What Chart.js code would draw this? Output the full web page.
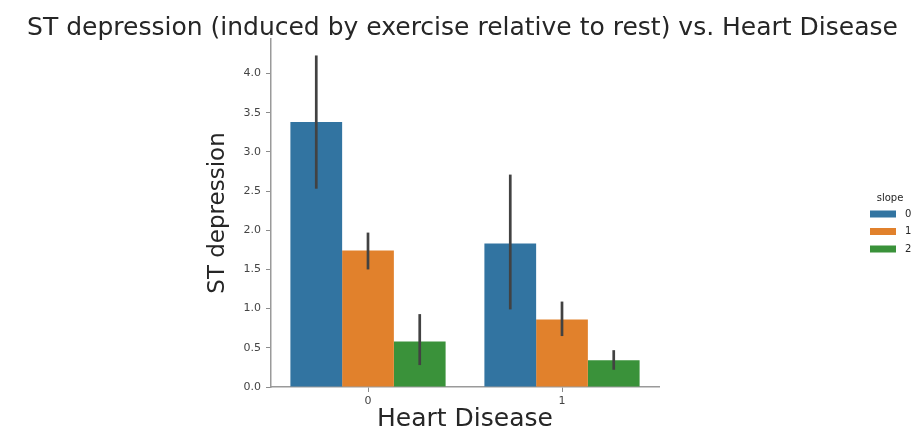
<!DOCTYPE html>
<html lang="en">
<head>
    <meta charset="UTF-8">
    <title>ST depression vs. Heart Disease</title>
    <script src="https://cdn.jsdelivr.net/npm/chart.js"></script>
    <style>
        html, body {
            margin: 0;
            padding: 0;
            background-color: #ffffff;
        }
        #chart-box {
            width: 917px;
            height: 430px;
        }
    </style>
</head>
<body>

    <div id="chart-box">
        <canvas id="stChart" width="917" height="430"></canvas>
    </div>

    <script>
        // Data
        const categories = ['0', '1'];            // Heart Disease
        const slopes = ['0', '1', '2'];
        const slope0 = [3.38, 1.83];
        const slope1 = [1.74, 0.86];
        const slope2 = [0.58, 0.34];
        // error bar ends (low / high)
        const slope0Low = [2.53, 0.99];
        const slope0High = [4.23, 2.71];
        const slope1Low = [1.50, 0.65];
        const slope1High = [1.97, 1.09];
        const slope2Low = [0.28, 0.22];
        const slope2High = [0.93, 0.47];
        const yTicks = [0, 0.5, 1, 1.5, 2, 2.5, 3, 3.5, 4];

        const colors = ['#3274a1', '#e1812c', '#3a923a'];
        const errLow = [slope0Low, slope1Low, slope2Low];
        const errHigh = [slope0High, slope1High, slope2High];

        // Draw the error bars on top of the bars
        const errorBars = {
            id: 'errorBars',
            afterDatasetsDraw(chart) {
                const ctx = chart.ctx;
                const y = chart.scales.y;
                ctx.save();
                ctx.strokeStyle = '#424242';
                ctx.lineWidth = 2.7;
                chart.data.datasets.forEach((ds, i) => {
                    const meta = chart.getDatasetMeta(i);
                    meta.data.forEach((bar, j) => {
                        ctx.beginPath();
                        ctx.moveTo(bar.x, y.getPixelForValue(errLow[i][j]));
                        ctx.lineTo(bar.x, y.getPixelForValue(errHigh[i][j]));
                        ctx.stroke();
                    });
                });
                ctx.restore();
            }
        };

        // Seaborn style legend off to the right
        const sideLegend = {
            id: 'sideLegend',
            afterDraw(chart) {
                const ctx = chart.ctx;
                ctx.save();
                ctx.font = '10px "DejaVu Sans"';
                ctx.fillStyle = '#262626';
                ctx.textBaseline = 'middle';
                ctx.textAlign = 'center';
                ctx.fillText('slope', 890, 198);
                ctx.textAlign = 'left';
                chart.data.datasets.forEach((ds, i) => {
                    const cy = 214 + i * 17.5;
                    ctx.fillStyle = ds.backgroundColor;
                    ctx.fillRect(870, cy - 3.5, 26, 7);
                    ctx.fillStyle = '#262626';
                    ctx.fillText(ds.label, 905, cy);
                });
                ctx.restore();
            }
        };

        const ctx = document.getElementById('stChart').getContext('2d');
        const stChart = new Chart(ctx, {
            type: 'bar',
            data: {
                labels: categories,
                datasets: [
                    { label: slopes[0], data: slope0, backgroundColor: colors[0] },
                    { label: slopes[1], data: slope1, backgroundColor: colors[1] },
                    { label: slopes[2], data: slope2, backgroundColor: colors[2] }
                ]
            },
            options: {
                responsive: false,
                animation: false,
                datasets: {
                    bar: {
                        barPercentage: 1.0,
                        categoryPercentage: 0.8,
                        borderWidth: 0
                    }
                },
                layout: {
                    padding: { left: 8, right: 0, top: 0, bottom: 0 }
                },
                plugins: {
                    legend: { display: false },
                    tooltip: { enabled: false },
                    title: {
                        display: true,
                        text: 'ST depression (induced by exercise relative to rest) vs. Heart Disease',
                        color: '#262626',
                        font: { family: 'DejaVu Sans', size: 25, weight: 'normal', lineHeight: 1.0 },
                        padding: { top: 16, bottom: -2 }
                    }
                },
                scales: {
                    x: {
                        offset: true,
                        grid: {
                            offset: false,
                            drawOnChartArea: false,
                            drawTicks: true,
                            tickLength: 5,
                            color: '#8c8c8c'
                        },
                        border: { display: true, color: '#9a9a9a', width: 1.5 },
                        ticks: {
                            color: '#444444',
                            padding: 3,
                            font: { family: 'DejaVu Sans', size: 11 }
                        },
                        title: {
                            display: true,
                            text: 'Heart Disease',
                            color: '#262626',
                            font: { family: 'DejaVu Sans', size: 25, lineHeight: 1.0 },
                            padding: { top: 0, bottom: -2 }
                        },
                        afterFit(scale) { scale.height = 43; }
                    },
                    y: {
                        min: 0,
                        max: 4.44,
                        afterBuildTicks(scale) {
                            scale.ticks = yTicks.map(v => ({ value: v }));
                        },
                        grid: {
                            drawOnChartArea: false,
                            drawTicks: true,
                            tickLength: 5,
                            color: '#8c8c8c'
                        },
                        border: { display: true, color: '#9a9a9a', width: 1.5 },
                        ticks: {
                            color: '#444444',
                            padding: 5,
                            font: { family: 'DejaVu Sans', size: 11 },
                            callback: v => Number(v).toFixed(1)
                        },
                        title: {
                            display: true,
                            text: 'ST depression',
                            color: '#262626',
                            font: { family: 'DejaVu Sans', size: 23, lineHeight: 1.2 },
                            padding: { top: 196, bottom: 0 }
                        },
                        afterFit(scale) { scale.width = 263; }
                    },
                    // empty axis that keeps the room on the right for the legend
                    spacer: {
                        type: 'linear',
                        position: 'right',
                        display: true,
                        grid: { display: false, drawTicks: false },
                        border: { display: false },
                        ticks: { display: false },
                        afterFit(scale) { scale.width = 258; }
                    }
                }
            },
            plugins: [errorBars, sideLegend]
        });
    </script>

</body>
</html>
